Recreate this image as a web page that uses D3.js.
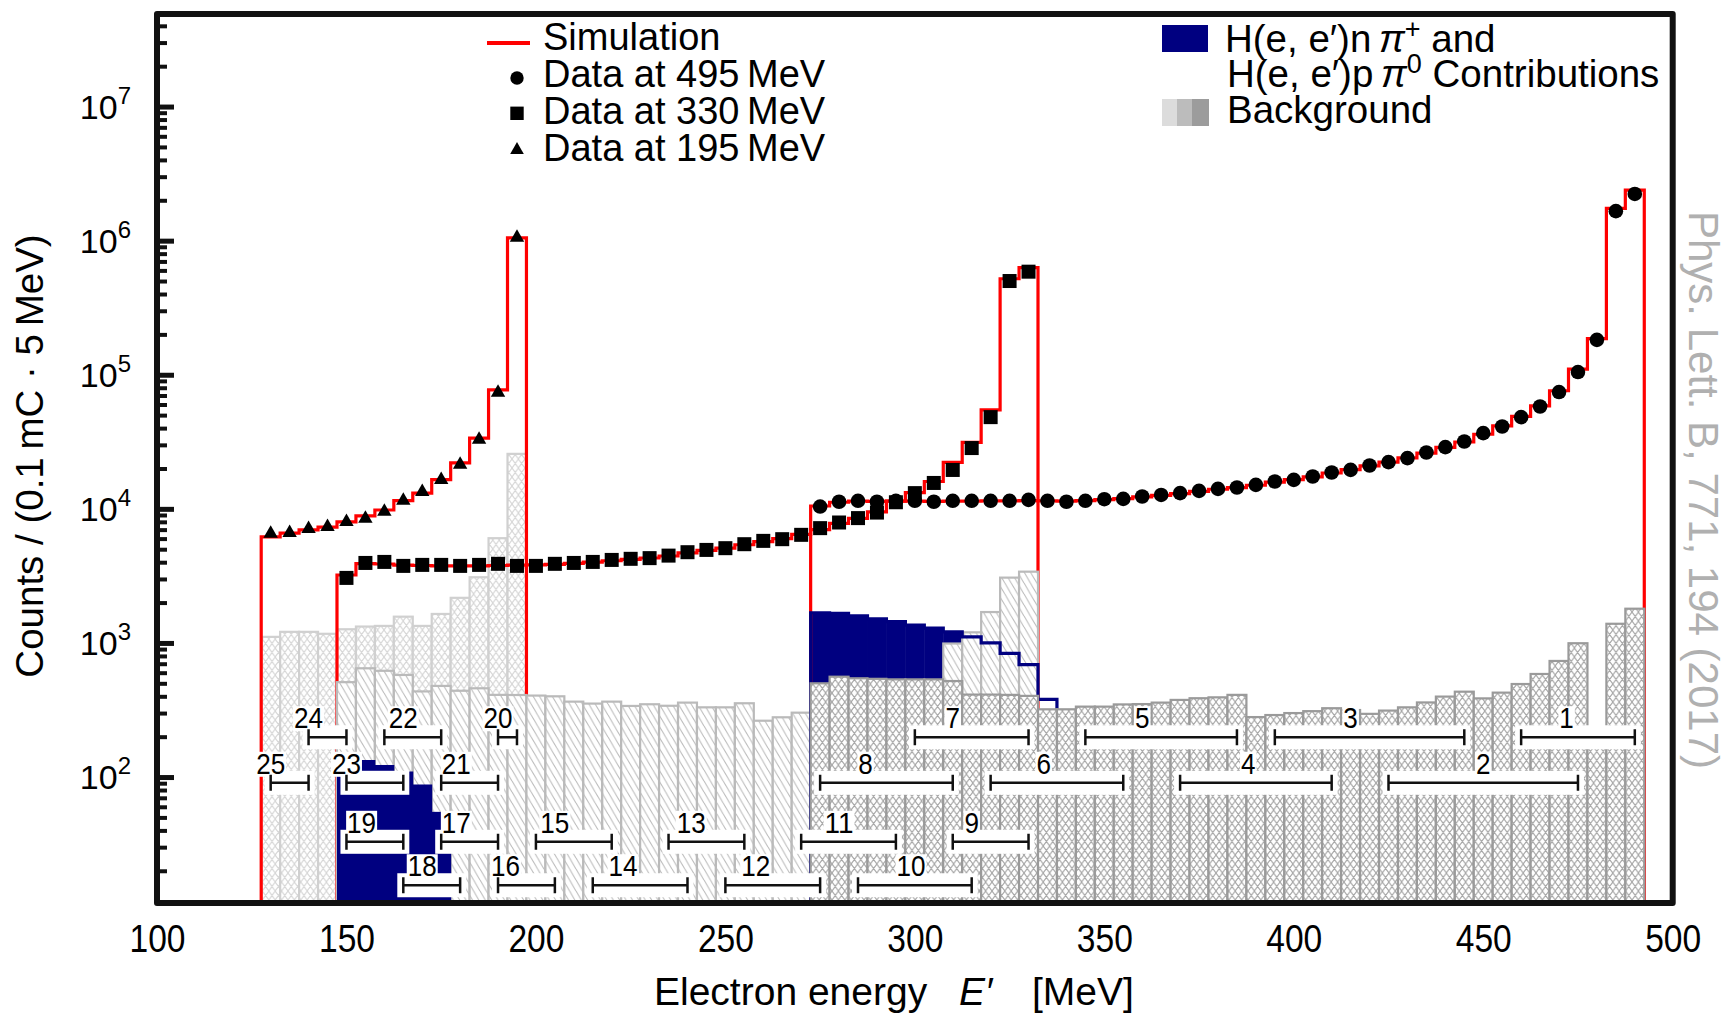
<!DOCTYPE html>
<html>
<head>
<meta charset="utf-8">
<script src="https://cdn.jsdelivr.net/npm/d3@7"></script>
<style>
body { margin: 0; background: #fff; }
text { font-family: "Liberation Sans", Arial, sans-serif; }
</style>
</head>
<body>
<div id="chart-area"></div>
<script>
/*
*    Electron spectra at three beam energies, log counts per 5 MeV bin
*/
var binWidth = 5;

// beam 195 MeV (bins from 127.5 MeV)
var start195 = 127.5;
var sim195  = [6170, 6600, 6960, 7300, 8000, 8850, 9800, 11500, 13100, 16500, 22000, 33700, 77000, 1050000];
var data195 = [6620, 6730, 7210, 7460, 8130, 8570, 9670, 11700, 13600, 16700, 21700, 33300, 74700, 1070000];
var bg195   = [1110, 1210, 1210, 1170, 1265, 1325, 1340, 1570, 1340, 1645, 2170, 3090, 6040, 25700];

// beam 330 MeV (bins from 147.5 MeV)
var start330 = 147.5;
var sim330 = [3210, 3900, 3880, 3800, 3780, 3760, 3760, 3760, 3780, 3800,
              3820, 3860, 3920, 4000, 4100, 4200, 4300, 4450, 4700, 4900,
              5100, 5400, 5700, 6000, 6450, 7000, 7800, 8500, 9500, 11400,
              13200, 16000, 22200, 31300, 54800, 520000, 630000];
var data330 = [3055, 3950, 4020, 3755, 3820, 3820, 3755, 3820, 3890, 3755,
               3755, 3890, 3950, 4020, 4160, 4240, 4290, 4480, 4750, 4940,
               5090, 5450, 5770, 5940, 6400, 7180, 7910, 8530, 9380, 11200,
               13100, 15600, 19500, 28400, 48300, 500000, 587000];
var bg330 = [510, 647, 620, 577, 435, 478, 440, 459, 410, 409,
             405, 400, 365, 353, 365, 339, 349, 340, 359, 331,
             331, 355, 263, 279, 302, 330, 340, 340, 350, 360,
             380, 420, 990, 1200, 1700, 3070, 3400];
var startPion330 = 147.5;
var pion330 = [134, 134, 123, 110, 88, 55];

// beam 495 MeV (bins from 272.5 MeV)
var start495 = 272.5;
var sim495 = [10500, 11200, 11400, 11350, 11400, 11400, 11350, 11400, 11400, 11450,
              11450, 11500, 11450, 11400, 11500, 11700, 11900, 12300, 12600, 13000,
              13500, 14000, 14400, 15000, 15800, 16500, 17300, 18500, 19600, 20900,
              22300, 24000, 26000, 28700, 31500, 36000, 41500, 49000, 58500, 76000,
              110000, 186000, 1740000, 2380000];
var data495 = [10400, 11300, 11480, 11300, 11480, 11480, 11300, 11480, 11480, 11480,
               11480, 11670, 11480, 11300, 11480, 11800, 11860, 12360, 12700, 13090,
               13620, 14100, 14420, 15100, 15990, 16450, 17420, 18660, 19540, 21040,
               22300, 23900, 26300, 28840, 31800, 36700, 41100, 48300, 58000, 74300,
               104700, 182000, 1660000, 2230000];
var bg495 = [500, 560, 545, 540, 535, 535, 535, 520, 412, 412,
             410, 403, 320, 320, 335, 335, 348, 350, 359, 376,
             387, 393, 410, 280, 290, 300, 310, 326, 316, 296,
             313, 331, 360, 398, 433, 386, 426, 494, 587, 734,
             995, 227, 1390, 1800];
var startPion495 = 272.5;
var pion495 = [1680, 1660, 1590, 1510, 1440, 1360, 1290, 1210, 1110, 1000, 835, 690, 380];
var pion495FillEnd = 312.5;

// kinematic settings (MeV ranges)
var setId    = [1, 2, 3, 4, 5, 6, 7, 8, 9, 10, 11, 12, 13, 14, 15, 16, 17, 18, 19, 20, 21, 22, 23, 24, 25];
var setLo    = [460, 425, 395, 370, 345, 320, 300, 275, 310, 285, 270, 250, 235, 215, 200, 190, 175, 165, 150, 190, 175, 160, 150, 140, 130];
var setHi    = [490, 475, 445, 410, 385, 355, 330, 310, 330, 315, 295, 275, 255, 240, 220, 205, 190, 180, 165, 195, 190, 175, 165, 150, 140];
var setLabel = [472, 450, 415, 388, 360, 334, 310, 287, 315, 299, 280, 258, 241, 223, 205, 192, 179, 170, 154, 190, 179, 165, 150, 140, 130];
var setRow   = [0, 1, 0, 1, 0, 1, 0, 1, 2, 3, 2, 3, 2, 3, 2, 3, 2, 3, 2, 0, 1, 0, 1, 0, 1];
var rowLevel = [198, 90.6, 32.9, 15.6];

var xTicks = [100, 150, 200, 250, 300, 350, 400, 450, 500];
var yDecades = [2, 3, 4, 5, 6, 7];

var width = 1727;
var height = 1017;
var plotL = 157, plotR = 1672.7, plotT = 14, plotB = 903;

var svg = d3.select("#chart-area").append("svg")
    .attr("width", width)
    .attr("height", height);

var x = d3.scaleLinear().domain([100, 500]).range([plotL, plotR]);
var y = d3.scaleLog().domain([11.5, 4.9e7]).range([plotB, plotT]);

var defs = svg.append("defs");
defs.append("clipPath").attr("id", "plot-clip")
    .append("rect")
    .attr("x", plotL).attr("y", plotT)
    .attr("width", plotR - plotL).attr("height", plotB - plotT);

function hatch(id, color, cross, w, h) {
    var p = defs.append("pattern")
        .attr("id", id)
        .attr("patternUnits", "userSpaceOnUse")
        .attr("width", w).attr("height", h);
    p.append("rect").attr("width", w).attr("height", h).attr("fill", "#fff");
    var d = "M0,0L" + w + "," + h + "M" + (-w) + ",0L0," + h + "M" + w + ",0L" + (2 * w) + "," + h;
    if (cross) {
        d += "M0," + h + "L" + w + ",0M" + (-w) + "," + h + "L0,0M" + w + "," + h + "L" + (2 * w) + ",0";
    }
    p.append("path").attr("d", d)
        .attr("stroke", color).attr("stroke-width", 1.1).attr("fill", "none");
}
hatch("cross-light", "#d6d6d6", true, 6.4, 9);
hatch("diag-mid", "#bdbdbd", false, 6.4, 11);
hatch("cross-dark", "#a6a6a6", true, 6.4, 9);

function bins(start, values) {
    return values.map(function(v, i) {
        return {lo: start + i * binWidth, hi: start + (i + 1) * binWidth, v: v};
    });
}

function stepPoints(start, values) {
    var b = bins(start, values);
    var floor = y.domain()[0] / 2;
    var pts = [[b[0].lo, floor]];
    b.forEach(function(d) {
        pts.push([d.lo, d.v]);
        pts.push([d.hi, d.v]);
    });
    pts.push([b[b.length - 1].hi, floor]);
    return pts;
}

var line = d3.line()
    .x(function(d) { return x(d[0]); })
    .y(function(d) { return y(d[1]); });

var g = svg.append("g").attr("clip-path", "url(#plot-clip)");

function drawBackground(start, values, pattern, stroke) {
    g.append("g").selectAll("rect")
        .data(bins(start, values))
        .enter().append("rect")
        .attr("x", function(d) { return x(d.lo); })
        .attr("width", function(d) { return x(d.hi) - x(d.lo); })
        .attr("y", function(d) { return y(d.v); })
        .attr("height", function(d) { return plotB + 10 - y(d.v); })
        .attr("fill", "url(#" + pattern + ")")
        .attr("stroke", stroke)
        .attr("stroke-width", 2.2);
}

function drawFill(start, values, maxE) {
    g.append("g").selectAll("rect")
        .data(bins(start, values).filter(function(d) { return d.hi <= maxE; }))
        .enter().append("rect")
        .attr("x", function(d) { return x(d.lo); })
        .attr("width", function(d) { return x(d.hi) - x(d.lo) + 0.5; })
        .attr("y", function(d) { return y(d.v); })
        .attr("height", function(d) { return plotB + 10 - y(d.v); })
        .attr("fill", "#000080");
}

// layers, back to front
drawBackground(start195, bg195, "cross-light", "#d0d0d0");
drawFill(startPion495, pion495, pion495FillEnd);

[[start195, sim195], [start330, sim330], [start495, sim495]].forEach(function(s) {
    g.append("path")
        .attr("d", line(stepPoints(s[0], s[1])))
        .attr("fill", "none")
        .attr("stroke", "#ff0000")
        .attr("stroke-width", 3.2);
});

drawBackground(start330, bg330, "diag-mid", "#bababa");
drawFill(startPion330, pion330, 500);

g.append("path")
    .attr("d", line(stepPoints(startPion495, pion495)))
    .attr("fill", "none")
    .attr("stroke", "#000080")
    .attr("stroke-width", 3.2);

drawBackground(start495, bg495, "cross-dark", "#9a9a9a");

// kinematic setting brackets
var sets = setId.map(function(id, i) {
    return {id: id, lo: setLo[i], hi: setHi[i], lab: setLabel[i], row: setRow[i]};
});
var sg = svg.append("g");
sets.forEach(function(d) {
    var yy = y(rowLevel[d.row]);
    var box = sg.append("g");
    box.append("rect")
        .attr("x", x(d.lo) - 6).attr("y", yy - 12)
        .attr("width", x(d.hi) - x(d.lo) + 12).attr("height", 24)
        .attr("fill", "#fff");
    var label = String(d.id);
    var t = box.append("text")
        .attr("x", x(d.lab)).attr("y", yy - 9)
        .attr("text-anchor", "middle")
        .attr("font-size", "30px")
        .attr("textLength", 14.5 * label.length)
        .attr("lengthAdjust", "spacingAndGlyphs")
        .text(label);
    var bb = t.node().getBBox();
    box.insert("rect", "text")
        .attr("x", bb.x - 1).attr("y", bb.y + 5)
        .attr("width", bb.width + 2).attr("height", bb.height - 8)
        .attr("fill", "#fff");
    box.append("path")
        .attr("d", "M" + x(d.lo) + "," + yy + "H" + x(d.hi) +
                   "M" + x(d.lo) + "," + (yy - 8) + "V" + (yy + 8) +
                   "M" + x(d.hi) + "," + (yy - 8) + "V" + (yy + 8))
        .attr("stroke", "#111").attr("stroke-width", 2.5).attr("fill", "none");
});

// data markers
var mg = svg.append("g");
mg.selectAll(".tri").data(bins(start195, data195)).enter().append("path")
    .attr("transform", function(d) { return "translate(" + x((d.lo + d.hi) / 2) + "," + y(d.v) + ")"; })
    .attr("d", "M0,-7.5L7.2,5L-7.2,5Z");
mg.selectAll(".sq").data(bins(start330, data330)).enter().append("rect")
    .attr("x", function(d) { return x((d.lo + d.hi) / 2) - 7; })
    .attr("y", function(d) { return y(d.v) - 7; })
    .attr("width", 14).attr("height", 14);
mg.selectAll(".dot").data(bins(start495, data495)).enter().append("circle")
    .attr("cx", function(d) { return x((d.lo + d.hi) / 2); })
    .attr("cy", function(d) { return y(d.v); })
    .attr("r", 7.3);

// axes
var majors = yDecades.map(function(e) { return Math.pow(10, e); });
var minors = [];
[1, 2, 3, 4, 5, 6, 7].forEach(function(e) {
    for (var k = 2; k <= 9; k++) {
        var v = k * Math.pow(10, e);
        if (v > y.domain()[0] && v < y.domain()[1]) minors.push(v);
    }
});

var yMinor = svg.append("g").attr("transform", "translate(" + plotL + ",0)")
    .call(d3.axisRight(y).tickValues(minors).tickSize(10).tickFormat(""));
var yMajor = svg.append("g").attr("transform", "translate(" + plotL + ",0)")
    .call(d3.axisRight(y).tickValues(majors).tickSize(17).tickFormat(""));
yMinor.select(".domain").remove();
yMajor.select(".domain").remove();
yMinor.selectAll("line").attr("stroke", "#111").attr("stroke-width", 4);
yMajor.selectAll("line").attr("stroke", "#111").attr("stroke-width", 5);

yDecades.forEach(function(e) {
    var t = svg.append("text")
        .attr("x", 131).attr("y", y(Math.pow(10, e)) + 12)
        .attr("text-anchor", "end")
        .attr("font-size", "34px");
    t.append("tspan").text("10");
    t.append("tspan").attr("dy", -15).attr("font-size", "24px").text(e);
});

var xAxisGroup = svg.append("g")
    .attr("transform", "translate(0," + plotB + ")")
    .call(d3.axisBottom(x).tickValues(xTicks).tickSize(0).tickPadding(22));
xAxisGroup.select(".domain").remove();
xAxisGroup.selectAll("text")
    .attr("font-size", "38px")
    .attr("font-family", "Liberation Sans, Arial, sans-serif")
    .attr("textLength", 56)
    .attr("lengthAdjust", "spacingAndGlyphs")
    .attr("fill", "#000");

// frame
svg.append("rect")
    .attr("x", plotL).attr("y", plotT)
    .attr("width", plotR - plotL).attr("height", plotB - plotT)
    .attr("fill", "none")
    .attr("stroke", "#111")
    .attr("stroke-width", 6)
    .attr("stroke-linejoin", "round");

// axis titles
svg.append("text")
    .attr("transform", "translate(43,456) rotate(-90)")
    .attr("text-anchor", "middle")
    .attr("font-size", "38.5px")
    .text("Counts / (0.1\u2009mC \u00b7 5\u2009MeV)");

var xt = svg.append("g").attr("font-size", "39px");
xt.append("text").attr("x", 654).attr("y", 1005).text("Electron energy");
xt.append("text").attr("x", 959).attr("y", 1005).attr("font-style", "italic").text("E\u2032");
xt.append("text").attr("x", 1032).attr("y", 1005).text("[MeV]");

svg.append("text")
    .attr("transform", "translate(1689,490) rotate(90)")
    .attr("text-anchor", "middle")
    .attr("font-size", "42px")
    .attr("fill", "#b0b0b0")
    .text("Phys. Lett. B, 771, 194 (2017)");

// left legend
var lg = svg.append("g").attr("font-size", "38px");
lg.append("line").attr("x1", 487).attr("x2", 530).attr("y1", 43).attr("y2", 43)
    .attr("stroke", "#ff0000").attr("stroke-width", 4);
lg.append("circle").attr("cx", 517).attr("cy", 78).attr("r", 6.7);
lg.append("rect").attr("x", 510.3).attr("y", 106.6).attr("width", 13.4).attr("height", 13.4);
lg.append("path").attr("transform", "translate(517,149)").attr("d", "M0,-7L6.8,5L-6.8,5Z");
lg.append("text").attr("x", 543).attr("y", 50).text("Simulation");
lg.append("text").attr("x", 543).attr("y", 87).text("Data at 495\u2009MeV");
lg.append("text").attr("x", 543).attr("y", 124).text("Data at 330\u2009MeV");
lg.append("text").attr("x", 543).attr("y", 161).text("Data at 195\u2009MeV");

// right legend
var rg = svg.append("g").attr("font-size", "38.5px");
rg.append("rect").attr("x", 1162).attr("y", 25).attr("width", 46).attr("height", 27).attr("fill", "#000080");
rg.append("rect").attr("x", 1162).attr("y", 99).attr("width", 16).attr("height", 27).attr("fill", "#dcdcdc");
rg.append("rect").attr("x", 1177).attr("y", 99).attr("width", 16).attr("height", 27).attr("fill", "#bcbcbc");
rg.append("rect").attr("x", 1192).attr("y", 99).attr("width", 17).attr("height", 27).attr("fill", "#9c9c9c");

var l1 = rg.append("text").attr("x", 1225).attr("y", 52);
l1.append("tspan").text("H(e, e\u2032)n\u2009");
l1.append("tspan").attr("font-style", "italic").text("\u03c0");
l1.append("tspan").attr("dy", -14).attr("font-size", "27px").text("+");
l1.append("tspan").attr("dy", 14).text(" and");

var l2 = rg.append("text").attr("x", 1227).attr("y", 87);
l2.append("tspan").text("H(e, e\u2032)p\u2009");
l2.append("tspan").attr("font-style", "italic").text("\u03c0");
l2.append("tspan").attr("dy", -14).attr("font-size", "27px").text("0");
l2.append("tspan").attr("dy", 14).text(" Contributions");

rg.append("text").attr("x", 1227).attr("y", 123).text("Background");
</script>
</body>
</html>
